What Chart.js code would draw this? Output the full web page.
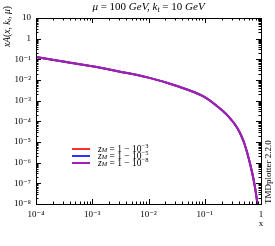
<!DOCTYPE html>
<html>
<head>
<meta charset="utf-8">
<script src="https://cdn.jsdelivr.net/npm/chart.js@4.4.1/dist/chart.umd.min.js"></script>
<style>
  html, body { margin: 0; padding: 0; background: #fff; }
  #wrap { width: 275px; height: 246px; }
</style>
</head>
<body>
<div id="wrap"><canvas id="tmdChart" width="275" height="246"></canvas></div>
<script>
// x grid (log scale)
const xValues = [1e-4, 3e-4, 1e-3, 3e-3, 1e-2, 3e-2, 0.1, 0.18, 0.27, 0.37, 0.45, 0.51, 0.62, 0.76, 0.85, 0.9];

// the three z_M curves sit on top of each other
const zM3 = [0.13, 0.0792, 0.0467, 0.0259, 0.0130, 0.00542, 0.00149, 4.5e-4, 1.6e-4, 5.3e-5, 1.9e-5, 8.0e-6, 1.23e-6, 1.0e-7, 1.4e-8, 4e-9];
const zM5 = [0.13, 0.0792, 0.0467, 0.0259, 0.0130, 0.00542, 0.00149, 4.5e-4, 1.6e-4, 5.3e-5, 1.9e-5, 8.0e-6, 1.23e-6, 1.0e-7, 1.4e-8, 4e-9];
const zM8 = [0.13, 0.0792, 0.0467, 0.0259, 0.0130, 0.00542, 0.00149, 4.5e-4, 1.6e-4, 5.3e-5, 1.9e-5, 8.0e-6, 1.23e-6, 1.0e-7, 1.4e-8, 4e-9];

const seriesExp = ['3', '5', '8'];
const seriesColors = ['#ff3030', '#3030ff', '#a020b0'];

const xTickValues = [1e-4, 1e-3, 1e-2, 1e-1, 1];
const xTickLabels = ['10\u207B\u2074', '10\u207B\u00B3', '10\u207B\u00B2', '10\u207B\u00B9', '1'];
const yTickValues = [10, 1, 1e-1, 1e-2, 1e-3, 1e-4, 1e-5, 1e-6, 1e-7, 1e-8];
const yTickLabels = ['10', '1', '10\u207B\u00B9', '10\u207B\u00B2', '10\u207B\u00B3', '10\u207B\u2074',
  '10\u207B\u2075', '10\u207B\u2076', '10\u207B\u2077', '10\u207B\u2078'];

const SERIF = "'Liberation Serif', 'DejaVu Serif', serif";

const toPoints = (ys) => xValues.map((x, i) => ({ x: x, y: ys[i] }));

// draw a run of text pieces (for sub/superscripts), left aligned
function richWidth(ctx, pieces) {
    let w = 0;
    pieces.forEach(p => {
        ctx.font = (p.italic ? 'italic ' : '') + p.size + 'px ' + SERIF;
        w += ctx.measureText(p.t).width;
    });
    return w;
}
function drawRich(ctx, pieces, x, y) {
    let cx = x;
    pieces.forEach(p => {
        ctx.font = (p.italic ? 'italic ' : '') + p.size + 'px ' + SERIF;
        ctx.fillText(p.t, cx, y + (p.dy || 0));
        cx += ctx.measureText(p.t).width;
    });
}

// frame, inward ticks on all four sides, and the extra text
const decorPlugin = {
    id: 'decor',
    afterDraw(chart) {
        const ctx = chart.ctx;
        const { left, right, top, bottom } = chart.chartArea;
        const xs = chart.scales.x;
        const ys = chart.scales.y;
        ctx.save();
        ctx.strokeStyle = '#000';
        ctx.lineWidth = 1;
        ctx.strokeRect(Math.round(left) + 0.5, Math.round(top) + 0.5,
            Math.round(right - left), Math.round(bottom - top));

        ctx.beginPath();
        for (let d = -4; d <= 0; d++) {
            for (let k = 1; k <= 9; k++) {
                const v = k * Math.pow(10, d);
                if (v > 1.0000001) break;
                const px = Math.round(xs.getPixelForValue(v)) + 0.5;
                const len = k === 1 ? 5 : 2.5;
                ctx.moveTo(px, bottom); ctx.lineTo(px, bottom - len);
                ctx.moveTo(px, top); ctx.lineTo(px, top + len);
            }
        }
        for (let d = -8; d <= 1; d++) {
            for (let k = 1; k <= 9; k++) {
                const v = k * Math.pow(10, d);
                if (v > 10.000001) break;
                const py = Math.round(ys.getPixelForValue(v)) + 0.5;
                const len = k === 1 ? 5 : 2.5;
                ctx.moveTo(left, py); ctx.lineTo(left + len, py);
                ctx.moveTo(right, py); ctx.lineTo(right - len, py);
            }
        }
        ctx.stroke();

        ctx.fillStyle = '#000';
        ctx.textBaseline = 'middle';

        // title
        const title = [
            { t: '\u03BC', size: 11, italic: true },
            { t: ' = 100 ', size: 11 },
            { t: 'GeV, k', size: 11, italic: true },
            { t: 't', size: 8, italic: true, dy: 2.5 },
            { t: ' = 10 ', size: 11 },
            { t: 'GeV', size: 11, italic: true }
        ];
        const tw = richWidth(ctx, title);
        drawRich(ctx, title, (left + right) / 2 - tw / 2, 7);

        // y axis title, rotated
        const yTitle = [
            { t: 'xA', size: 9.5, italic: true },
            { t: '(', size: 9.5 },
            { t: 'x, k', size: 9.5, italic: true },
            { t: 't', size: 7, italic: true, dy: 2 },
            { t: ', \u03BC', size: 9.5, italic: true },
            { t: ')', size: 9.5 }
        ];
        const yw = richWidth(ctx, yTitle);
        ctx.save();
        ctx.translate(7, 6 + yw);
        ctx.rotate(-Math.PI / 2);
        drawRich(ctx, yTitle, 0, 0);
        ctx.restore();

        // x axis title
        ctx.font = '9px ' + SERIF;
        ctx.textAlign = 'center';
        ctx.fillText('x', right, 224);
        ctx.textAlign = 'left';

        // TMDplotter stamp
        ctx.save();
        ctx.translate(269, bottom);
        ctx.rotate(-Math.PI / 2);
        ctx.font = '9px ' + SERIF;
        ctx.fillText('TMDplotter 2.2.0', 0, 0);
        ctx.restore();

        // legend
        chart.data.datasets.forEach((ds, i) => {
            const ly = 149 + i * 7;
            ctx.strokeStyle = ds.borderColor;
            ctx.lineWidth = 2;
            ctx.beginPath();
            ctx.moveTo(72, ly); ctx.lineTo(90, ly);
            ctx.stroke();
            drawRich(ctx, [
                { t: 'z', size: 9.5, italic: true },
                { t: 'M', size: 6.5, italic: true, dy: 1.5 },
                { t: ' = 1 \u2212 10', size: 9.5 },
                { t: '\u2212' + seriesExp[i], size: 6.5, dy: -2.5 }
            ], 98, ly);
        });
        ctx.restore();
    }
};

const ctxMain = document.getElementById('tmdChart').getContext('2d');
new Chart(ctxMain, {
    type: 'line',
    data: {
        datasets: [
            { label: 'zM = 1 - 10^-3', data: toPoints(zM3), borderColor: seriesColors[0], order: 3 },
            { label: 'zM = 1 - 10^-5', data: toPoints(zM5), borderColor: seriesColors[1], order: 2 },
            { label: 'zM = 1 - 10^-8', data: toPoints(zM8), borderColor: seriesColors[2], order: 1 }
        ].map(ds => Object.assign(ds, {
            borderWidth: 2,
            pointRadius: 0,
            fill: false,
            cubicInterpolationMode: 'monotone'
        }))
    },
    options: {
        responsive: false,
        animation: false,
        layout: { padding: { top: 18, right: 14, bottom: 0, left: 0 } },
        plugins: {
            legend: { display: false },
            title: { display: false },
            tooltip: { enabled: false }
        },
        scales: {
            x: {
                type: 'logarithmic',
                min: 1e-4,
                max: 1,
                grid: { display: false, drawTicks: false },
                border: { display: false },
                afterBuildTicks: (scale) => { scale.ticks = xTickValues.map(v => ({ value: v })); },
                afterFit: (scale) => { scale.height = 42; },
                ticks: {
                    autoSkip: false,
                    maxRotation: 0,
                    padding: 5,
                    color: '#000',
                    font: { family: SERIF, size: 9 },
                    callback: (val, idx) => xTickLabels[idx]
                }
            },
            y: {
                type: 'logarithmic',
                min: 1e-8,
                max: 10,
                grid: { display: false, drawTicks: false },
                border: { display: false },
                afterBuildTicks: (scale) => { scale.ticks = yTickValues.map(v => ({ value: v })); },
                afterFit: (scale) => { scale.width = 36; },
                ticks: {
                    autoSkip: false,
                    padding: 5,
                    color: '#000',
                    font: { family: SERIF, size: 9 },
                    callback: (val, idx) => yTickLabels[idx]
                }
            }
        }
    },
    plugins: [decorPlugin]
});
</script>
</body>
</html>
